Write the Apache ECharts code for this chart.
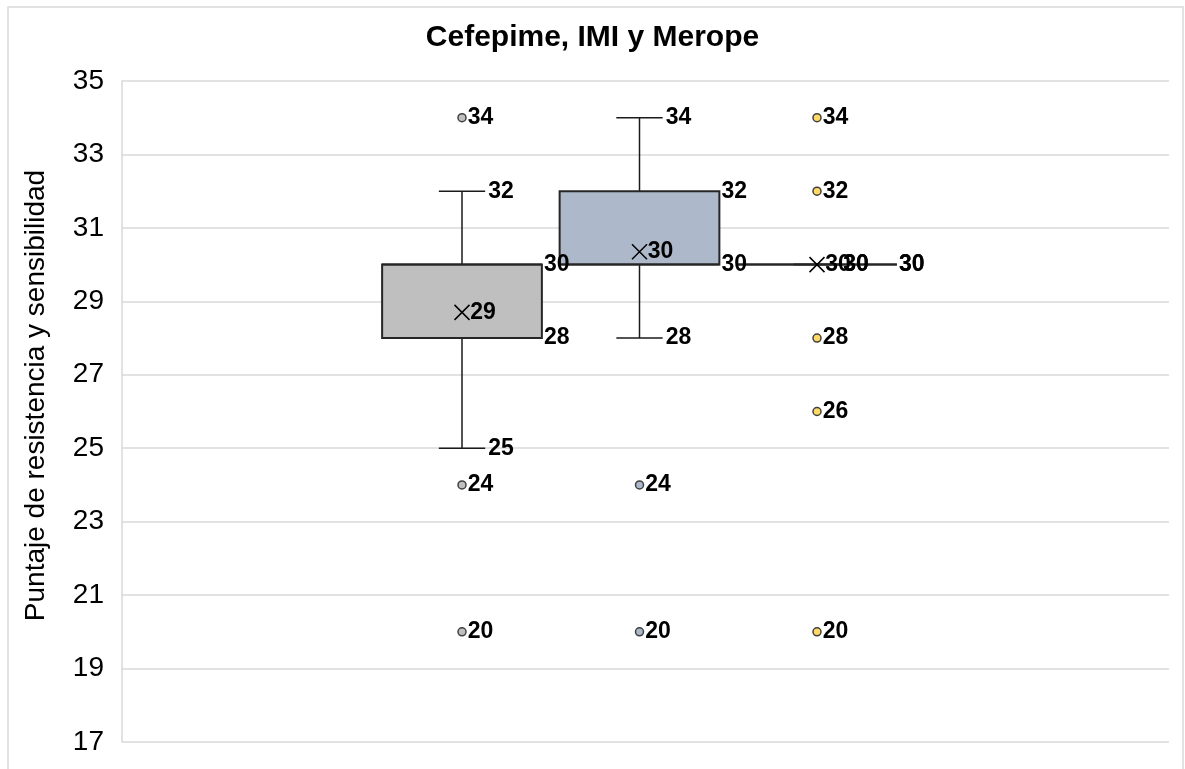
<!DOCTYPE html>
<html>
<head>
<meta charset="utf-8">
<script src="https://cdn.jsdelivr.net/npm/echarts@6/dist/echarts.min.js"></script>
<style>
  html, body { margin: 0; padding: 0; background: #ffffff; }
  #chart { width: 1185px; height: 769px; }
</style>
</head>
<body>
<div id="chart"></div>
<script>
// ---- data ----
const categories = ['Cefepime', 'IMI', 'Merope'];
const yTicks = [17, 19, 21, 23, 25, 27, 29, 31, 33, 35];
const whiskerLow = [25, 28, 30];
const quartile1 = [28, 30, 30];
const medians = [30, 30, 30];
const quartile3 = [30, 32, 30];
const whiskerHigh = [32, 34, 30];
const means = [28.7, 30.35, 30.0];
const outliersCefepime = [34, 24, 20];
const outliersIMI = [24, 20];
const outliersMerope = [34, 32, 28, 26, 20];

// ---- styles ----
const boxColors = ['#bfbfbf', '#adb9ca', '#ffd966'];
const FONT = '"Liberation Sans", Arial, Helvetica, sans-serif';
const LABEL_SIZE = 23;
const labelFont = 'bold ' + LABEL_SIZE + 'px ' + FONT;

const boxData = categories.map((c, i) => [i, whiskerLow[i], quartile1[i], medians[i], quartile3[i], whiskerHigh[i]]);
const meanData = categories.map((c, i) => [i, means[i]]);
const outlierSets = [outliersCefepime, outliersIMI, outliersMerope];

function renderBox(params, api) {
  const i = api.value(0);
  const lo = api.coord([i, api.value(1)]);
  const q1 = api.coord([i, api.value(2)]);
  const md = api.coord([i, api.value(3)]);
  const q3 = api.coord([i, api.value(4)]);
  const hi = api.coord([i, api.value(5)]);
  const band = api.size([1, 0])[0];
  const bw = band * 0.9;
  const cw = bw * 0.29;
  const cx = lo[0];
  const left = cx - bw / 2, right = cx + bw / 2;
  const col = boxColors[params.dataIndex];
  const ls = { stroke: '#1a1a1a', lineWidth: 1.5 };
  const lbl = (val, x, y) => ({
    type: 'text', z2: 50,
    style: { text: String(val), x: x, y: y, align: 'left', verticalAlign: 'middle', fill: '#000', font: labelFont }
  });
  return {
    type: 'group',
    children: [
      { type: 'line', shape: { x1: cx, y1: hi[1], x2: cx, y2: q3[1] }, style: ls },
      { type: 'line', shape: { x1: cx, y1: q1[1], x2: cx, y2: lo[1] }, style: ls },
      { type: 'line', shape: { x1: cx - cw / 2, y1: hi[1], x2: cx + cw / 2, y2: hi[1] }, style: ls },
      { type: 'line', shape: { x1: cx - cw / 2, y1: lo[1], x2: cx + cw / 2, y2: lo[1] }, style: ls },
      { type: 'rect', shape: { x: left, y: q3[1], width: bw, height: q1[1] - q3[1] },
        style: { fill: col, stroke: '#262626', lineWidth: 2 } },
      { type: 'line', shape: { x1: left, y1: md[1], x2: right, y2: md[1] }, style: { stroke: '#262626', lineWidth: 2 } },
      lbl(api.value(5), cx + cw / 2 + 3, hi[1]),
      lbl(api.value(1), cx + cw / 2 + 3, lo[1]),
      lbl(api.value(4), right + 2, q3[1]),
      lbl(api.value(2), right + 2, q1[1])
    ]
  };
}

const pointLabel = {
  show: true, position: 'right', distance: 1,
  color: '#000000', fontWeight: 'bold', fontSize: LABEL_SIZE, fontFamily: FONT,
  textBorderWidth: 0, opacity: 1
};

const outlierSeries = outlierSets.map((arr, k) => ({
  type: 'scatter',
  xAxisIndex: 1, yAxisIndex: 1,
  data: arr.map(v => [k, v]),
  symbol: 'circle', symbolSize: 8,
  itemStyle: { color: boxColors[k], borderColor: '#404040', borderWidth: 1.5, opacity: 1 },
  label: Object.assign({}, pointLabel, { formatter: p => String(p.value[1]) }),
  silent: true, z: 4
}));

const chart = echarts.init(document.getElementById('chart'), null, { renderer: 'canvas' });
chart.setOption({
  animation: false,
  backgroundColor: '#ffffff',
  title: {
    text: 'Cefepime, IMI y Merope',
    left: 'center', top: 18,
    textStyle: { fontSize: 30, fontWeight: 'bold', color: '#000', fontFamily: FONT }
  },
  graphic: [{
    type: 'rect', z: -10, silent: true,
    shape: { x: 8, y: 7, width: 1175, height: 800 },
    style: { fill: 'none', stroke: '#d9d9d9', lineWidth: 1.5 }
  }],
  grid: [
    { left: 122, right: 16, top: 81, bottom: 27 },
    { left: 373.25, width: 532.5, top: 81, bottom: 27 }
  ],
  xAxis: [
    { gridIndex: 0, type: 'value', min: 0, max: 1, show: false },
    { gridIndex: 1, type: 'category', data: categories, show: false }
  ],
  yAxis: [
    {
      gridIndex: 0, type: 'value', min: 17, max: 35,
      name: 'Puntaje de resistencia y sensibilidad',
      nameLocation: 'middle', nameGap: 72,
      nameTextStyle: { fontSize: 28, color: '#000', fontFamily: FONT, padding: [0, 0, 0, 32] },
      axisLine: { show: true, lineStyle: { color: '#d9d9d9', width: 1.5 } },
      axisTick: { show: false, customValues: yTicks },
      axisLabel: { customValues: yTicks, fontSize: 28, color: '#000', fontFamily: FONT, margin: 18 },
      splitLine: { show: true, lineStyle: { color: '#d9d9d9', width: 1.5 } }
    },
    { gridIndex: 1, type: 'value', min: 17, max: 35, show: false, splitLine: { show: false } }
  ],
  series: [
    {
      type: 'custom',
      xAxisIndex: 1, yAxisIndex: 1,
      data: boxData,
      encode: { x: 0, y: [1, 2, 3, 4, 5] },
      renderItem: renderBox,
      silent: true, z: 2
    },
    {
      type: 'scatter',
      xAxisIndex: 1, yAxisIndex: 1,
      data: meanData,
      symbol: 'path://M0,0L10,10M10,0L0,10',
      symbolSize: 15,
      itemStyle: { color: 'rgba(0,0,0,0)', borderColor: '#000', borderWidth: 1.5, opacity: 1 },
      label: Object.assign({}, pointLabel, { distance: 0, formatter: p => String(Math.round(p.value[1])) }),
      silent: true, z: 5
    }
  ].concat(outlierSeries)
});
</script>
</body>
</html>
